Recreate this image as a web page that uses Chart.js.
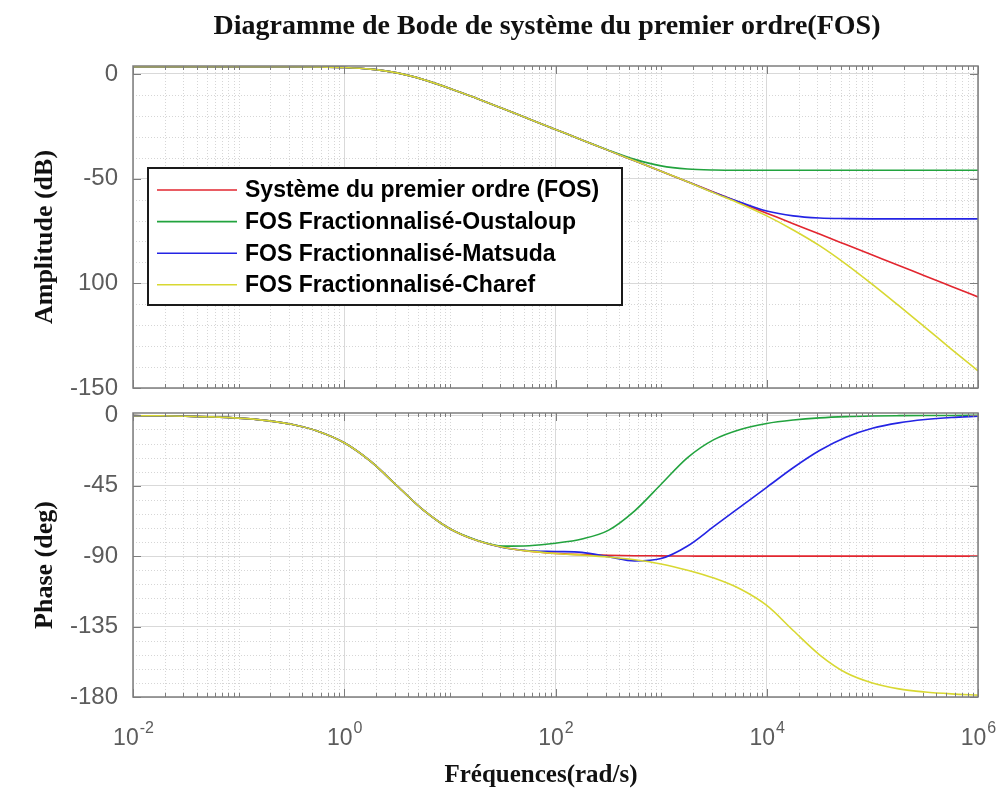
<!DOCTYPE html>
<html lang="fr">
<head>
<meta charset="UTF-8">
<title>Diagramme de Bode - FOS</title>
<style>
    body { margin: 0; background: #fff; }
    .wrap { position: relative; width: 1000px; height: 798px; background: #fff; }
    .wrap canvas { position: absolute; left: 0; }
    #ampChart { top: 0; }
    #phaseChart { top: 400px; }
</style>
</head>
<body>
<div class="wrap">
    <canvas id="ampChart" width="1000" height="400"></canvas>
    <canvas id="phaseChart" width="1000" height="398"></canvas>
</div>
<script src="https://cdn.jsdelivr.net/npm/chart.js"></script>
<script>
// frequencies (rad/s), 4 points per decade
const freq = [0.01, 0.0178, 0.0316, 0.0562, 0.1, 0.178, 0.316, 0.562,
    1, 1.78, 3.16, 5.62, 10, 17.8, 31.6, 56.2,
    100, 178, 316, 562, 1000, 1780, 3160, 5620,
    10000, 17800, 31600, 56200, 100000, 178000, 316000, 562000, 1000000];

// amplitude (dB)
const ampFOS = [3.5, 3.5, 3.5, 3.5, 3.5, 3.5, 3.5, 3.4, 3.1, 2.3, 0.5, -2.7, -6.9, -11.6, -16.5, -21.5,
    -26.5, -31.5, -36.5, -41.5, -46.5, -51.5, -56.5, -61.5, -66.5, -71.5, -76.5, -81.5, -86.5, -91.5, -96.5, -101.5, -106.5];
const ampOustaloup = [3.5, 3.5, 3.5, 3.5, 3.5, 3.5, 3.5, 3.4, 3.1, 2.3, 0.5, -2.7, -6.9, -11.6, -16.5, -21.5,
    -26.5, -31.5, -36.4, -40.8, -43.9, -45.4, -45.9, -46, -46, -46, -46, -46, -46, -46, -46, -46, -46];
const ampMatsuda = [3.5, 3.5, 3.5, 3.5, 3.5, 3.5, 3.5, 3.4, 3.1, 2.3, 0.5, -2.7, -6.9, -11.6, -16.5, -21.5,
    -26.5, -31.5, -36.5, -41.5, -46.5, -51.5, -56.6, -61.3, -65.5, -67.8, -68.8, -69.1, -69.2, -69.2, -69.2, -69.2, -69.2];
const ampCharef = [3.5, 3.5, 3.5, 3.5, 3.5, 3.5, 3.5, 3.4, 3.1, 2.3, 0.5, -2.7, -6.9, -11.6, -16.5, -21.5,
    -26.5, -31.5, -36.5, -41.5, -46.5, -51.5, -56.8, -62, -67.8, -74.5, -82, -90.8, -100.5, -110.7, -121, -131.5, -141.8];

// phase (deg)
const phFOS = [-0.2, -0.3, -0.6, -1, -1.8, -3.2, -5.7, -10.1, -17.5, -29.4, -45, -60.6, -72.5, -79.9, -84.3, -86.8,
    -88.2, -89, -89.4, -89.7, -89.8, -89.9, -90, -90, -90, -90, -90, -90, -90, -90, -90, -90, -90];
const phOustaloup = [-0.2, -0.3, -0.6, -1, -1.8, -3.2, -5.7, -10.1, -17.5, -29.4, -45, -60.6, -72.5, -79.6, -83.6, -83.3,
    -81.7, -79, -73.5, -61, -44, -27, -15.5, -9, -5.2, -3, -1.6, -0.8, -0.4, -0.2, -0.1, -0.1, 0];
const phMatsuda = [-0.2, -0.3, -0.6, -1, -1.8, -3.2, -5.7, -10.1, -17.5, -29.4, -45, -60.6, -72.5, -79.9, -84.4, -86.5,
    -87, -87.6, -90.3, -93, -91.5, -83.5, -71, -58.5, -46, -33.5, -22.5, -14, -8.3, -4.8, -2.7, -1.4, -0.6];
const phCharef = [-0.2, -0.3, -0.6, -1, -1.8, -3.2, -5.7, -10.1, -17.5, -29.4, -45, -60.6, -72.5, -79.9, -84.3, -86.8,
    -88.3, -89.3, -90.5, -92.3, -95, -99, -104, -111, -121.5, -137.5, -153, -164.5, -171, -174.8, -176.8, -178, -178.8];

const seriesNames = ['Système du premier ordre (FOS)', 'FOS Fractionnalisé-Oustaloup',
    'FOS Fractionnalisé-Matsuda', 'FOS Fractionnalisé-Charef'];
const seriesColors = ['#e2262f', '#22a33e', '#2424e4', '#d8d832'];

// axis ticks
const freqTicks = [1e-2, 1, 1e2, 1e4, 1e6];
const freqTickExp = ['-2', '0', '2', '4', '6'];
const ampTicks = [0, -50, -100, -150];
const ampTickLabels = ['0', '-50', '100', '-150'];
const phTicks = [0, -45, -90, -135, -180];
const phTickLabels = ['0', '-45', '-90', '-135', '-180'];

// minor grid positions on the log axis: 2..9 x 10^n and the odd decades
const minorFreqs = [];
for (let n = -2; n < 6; n++) {
    for (let k = 1; k <= 9; k++) {
        if (k === 1 && n % 2 === 0) continue;
        minorFreqs.push(k * Math.pow(10, n));
    }
}

function makeSets(lists) {
    return lists.map((vals, i) => ({
        label: seriesNames[i],
        data: freq.map((f, j) => ({ x: f, y: vals[j] })),
        borderColor: seriesColors[i],
        borderWidth: 1.6,
        pointRadius: 0,
        fill: false,
        cubicInterpolationMode: 'monotone',
        order: seriesNames.length - i
    }));
}

function line(ctx, x1, y1, x2, y2) {
    ctx.beginPath();
    ctx.moveTo(x1, y1);
    ctx.lineTo(x2, y2);
    ctx.stroke();
}

// grid, frame, inner ticks and all the text around the axes
const bodeFrame = {
    id: 'bodeFrame',
    beforeDatasetsDraw(chart, args, opts) {
        const { ctx, chartArea: a, scales: { x, y } } = chart;
        ctx.save();
        ctx.strokeStyle = '#d6d6d6';
        ctx.lineWidth = 1;
        ctx.setLineDash([1, 2]);
        minorFreqs.forEach(v => {
            const px = Math.round(x.getPixelForValue(v)) + 0.5;
            line(ctx, px, a.top, px, a.bottom);
        });
        opts.minorY.forEach(v => {
            const py = Math.round(y.getPixelForValue(v)) + 0.5;
            line(ctx, a.left, py, a.right, py);
        });
        ctx.restore();
    },
    afterDatasetsDraw(chart, args, opts) {
        const { ctx, chartArea: a, scales: { x, y } } = chart;
        ctx.save();
        ctx.strokeStyle = '#7d7d7d';
        ctx.lineWidth = 1.5;
        ctx.strokeRect(a.left, a.top, a.right - a.left, a.bottom - a.top);
        ctx.lineWidth = 1;
        freqTicks.forEach(v => {
            const px = Math.round(x.getPixelForValue(v)) + 0.5;
            line(ctx, px, a.top, px, a.top + 8);
            line(ctx, px, a.bottom, px, a.bottom - 8);
        });
        minorFreqs.forEach(v => {
            const px = Math.round(x.getPixelForValue(v)) + 0.5;
            line(ctx, px, a.top, px, a.top + 4);
            line(ctx, px, a.bottom, px, a.bottom - 4);
        });
        opts.majorY.forEach(v => {
            const py = Math.round(y.getPixelForValue(v)) + 0.5;
            line(ctx, a.left, py, a.left + 8, py);
            line(ctx, a.right, py, a.right - 8, py);
        });
        ctx.restore();
    },
    afterDraw(chart, args, opts) {
        const { ctx, chartArea: a, scales: { x } } = chart;
        ctx.save();
        ctx.fillStyle = '#111';
        ctx.textAlign = 'center';
        ctx.textBaseline = 'middle';
        if (opts.title) {
            ctx.font = 'bold 28px "Liberation Serif"';
            ctx.fillText(opts.title.text, opts.title.x, opts.title.y);
        }
        // vertical axis title
        ctx.save();
        ctx.translate(opts.yTitle.x, opts.yTitle.y);
        ctx.rotate(-Math.PI / 2);
        ctx.font = 'bold 26px "Liberation Serif"';
        ctx.fillText(opts.yTitle.text, 0, 0);
        ctx.restore();

        if (opts.xTitle) {
            ctx.font = 'bold 25px "Liberation Serif"';
            ctx.fillText(opts.xTitle.text, opts.xTitle.x, opts.xTitle.y);
            // 10^n tick labels
            ctx.fillStyle = '#5c5c5c';
            ctx.textAlign = 'left';
            ctx.textBaseline = 'alphabetic';
            freqTicks.forEach((v, i) => {
                const px = x.getPixelForValue(v);
                ctx.font = '23px "Liberation Sans"';
                const wb = ctx.measureText('10').width;
                ctx.font = '16px "Liberation Sans"';
                const we = ctx.measureText(freqTickExp[i]).width;
                const x0 = px - (wb + we) / 2;
                ctx.font = '23px "Liberation Sans"';
                ctx.fillText('10', x0, a.bottom + 48);
                ctx.font = '16px "Liberation Sans"';
                ctx.fillText(freqTickExp[i], x0 + wb + 1, a.bottom + 36);
            });
        }

        if (opts.legend) {
            const L = opts.legend;
            ctx.fillStyle = '#fff';
            ctx.fillRect(L.x, L.y, L.w, L.h);
            ctx.strokeStyle = '#1a1a1a';
            ctx.lineWidth = 2;
            ctx.strokeRect(L.x, L.y, L.w, L.h);
            ctx.font = 'bold 23px "Liberation Sans"';
            ctx.textAlign = 'left';
            ctx.textBaseline = 'middle';
            chart.data.datasets.forEach((ds, i) => {
                const cy = L.y + 22 + i * 31.6;
                ctx.strokeStyle = ds.borderColor;
                ctx.lineWidth = 1.6;
                line(ctx, L.x + 9, cy, L.x + 89, cy);
                ctx.fillStyle = '#000';
                ctx.fillText(ds.label, L.x + 97, cy + 1);
            });
        }
        ctx.restore();
    }
};

function range(from, to, step, skip) {
    const out = [];
    for (let v = from; v >= to; v -= step) {
        if (v % skip !== 0) out.push(v);
    }
    return out;
}

function xAxis() {
    return {
        type: 'logarithmic',
        min: 1e-2,
        max: 1e6,
        afterBuildTicks: s => { s.ticks = freqTicks.map(v => ({ value: v })); },
        ticks: { display: false },
        grid: { color: '#d9d9d9', lineWidth: 1, drawTicks: false },
        border: { display: false },
        afterFit: s => { s.height = 0; s.paddingLeft = 0; s.paddingRight = 0; }
    };
}

function yAxis(min, max, values, labels) {
    return {
        min: min,
        max: max,
        afterBuildTicks: s => { s.ticks = values.map(v => ({ value: v })); },
        ticks: {
            callback: v => labels[values.indexOf(v)],
            color: '#5c5c5c',
            padding: 15,
            font: { family: 'Liberation Sans', size: 24 }
        },
        grid: { color: '#d9d9d9', lineWidth: 1, drawTicks: false },
        border: { display: false },
        afterFit: s => { s.width = 133; s.paddingTop = 0; s.paddingBottom = 0; }
    };
}

const ampChart = new Chart(document.getElementById('ampChart'), {
    type: 'line',
    data: { datasets: makeSets([ampFOS, ampOustaloup, ampMatsuda, ampCharef]) },
    options: {
        responsive: false,
        animation: false,
        layout: { padding: { top: 66, right: 22, bottom: 12, left: 0 } },
        plugins: {
            legend: { display: false },
            tooltip: { enabled: false },
            bodeFrame: {
                minorY: range(0, -150, 10, 50),
                majorY: ampTicks,
                title: { text: 'Diagramme de Bode de système du premier ordre(FOS)', x: 547, y: 27 },
                yTitle: { text: 'Amplitude (dB)', x: 45, y: 237 },
                legend: { x: 148, y: 168, w: 474, h: 137 }
            }
        },
        scales: {
            x: xAxis(),
            y: yAxis(-150, 3.8, ampTicks, ampTickLabels)
        }
    },
    plugins: [bodeFrame]
});

const phaseChart = new Chart(document.getElementById('phaseChart'), {
    type: 'line',
    data: { datasets: makeSets([phFOS, phOustaloup, phMatsuda, phCharef]) },
    options: {
        responsive: false,
        animation: false,
        layout: { padding: { top: 13, right: 22, bottom: 101, left: 0 } },
        plugins: {
            legend: { display: false },
            tooltip: { enabled: false },
            bodeFrame: {
                minorY: range(0, -180, 9, 45),
                majorY: phTicks,
                yTitle: { text: 'Phase (deg)', x: 45, y: 165 },
                xTitle: { text: 'Fréquences(rad/s)', x: 541, y: 376 }
            }
        },
        scales: {
            x: xAxis(),
            y: yAxis(-180, 1.5, phTicks, phTickLabels)
        }
    },
    plugins: [bodeFrame]
});
</script>
</body>
</html>
